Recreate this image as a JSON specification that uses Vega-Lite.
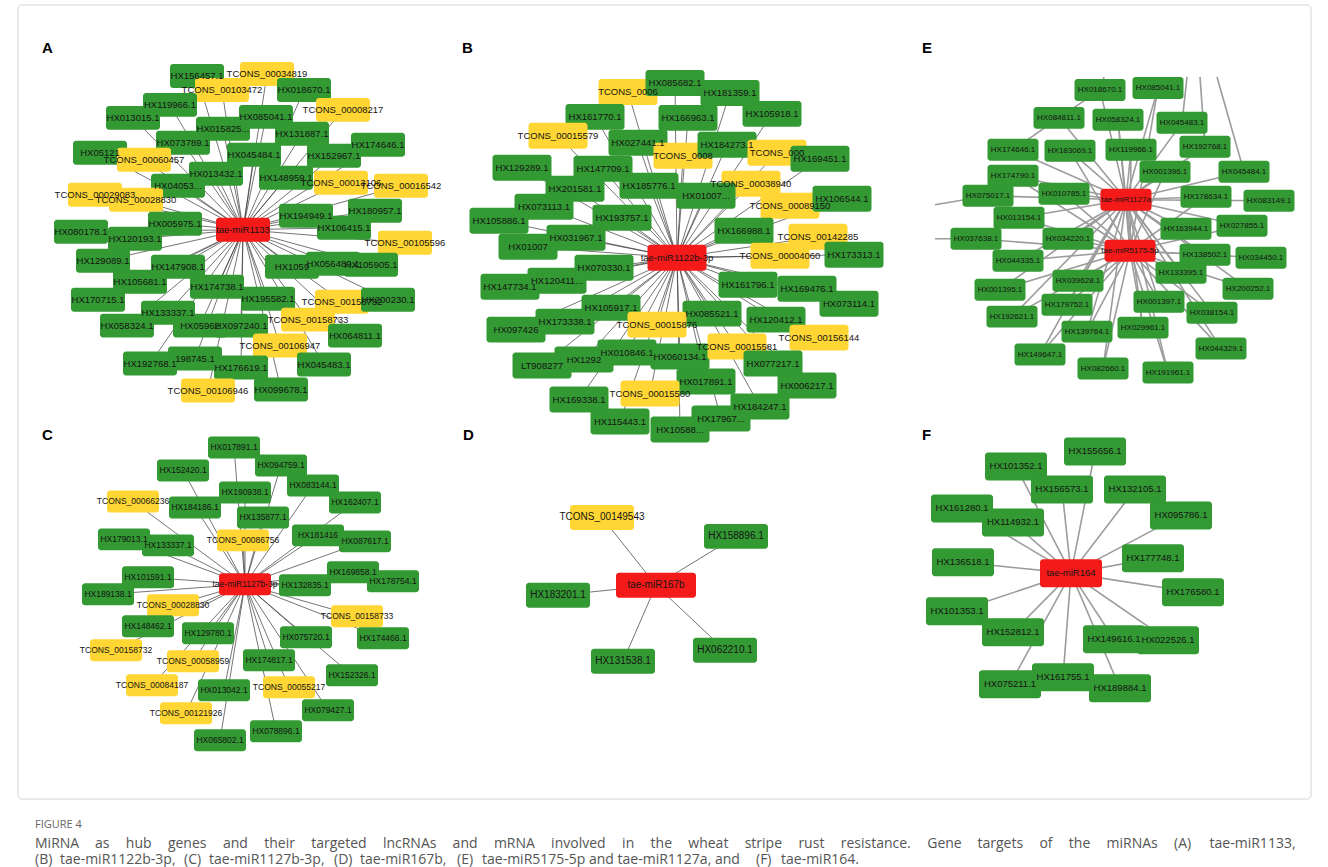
{
  "$schema": "https://vega.github.io/schema/vega-lite/v6.json",
  "width": 1328,
  "height": 867,
  "autosize": {"type": "fit", "contains": "padding"},
  "padding": 0,
  "background": "white",
  "config": {"view": {"stroke": null}},
  "datasets": {
    "frame": [{"x": 18, "y": 5, "x2": 1311, "y2": 800}],
    "nodes": [
      {"p": "A", "n": "HX156457.1", "t": "mRNA", "x": 197, "y": 76},
      {"p": "A", "n": "TCONS_00034819", "t": "lncRNA", "x": 267, "y": 74},
      {"p": "A", "n": "TCONS_00103472", "t": "lncRNA", "x": 222, "y": 90},
      {"p": "A", "n": "HX018670.1", "t": "mRNA", "x": 304, "y": 90},
      {"p": "A", "n": "TCONS_00008217", "t": "lncRNA", "x": 343, "y": 110},
      {"p": "A", "n": "HX119966.1", "t": "mRNA", "x": 170, "y": 105},
      {"p": "A", "n": "HX013015.1", "t": "mRNA", "x": 133, "y": 118},
      {"p": "A", "n": "HX085041.1", "t": "mRNA", "x": 266, "y": 117},
      {"p": "A", "n": "HX015825...", "t": "mRNA", "x": 223, "y": 129},
      {"p": "A", "n": "HX131887.1", "t": "mRNA", "x": 302, "y": 134},
      {"p": "A", "n": "HX174646.1", "t": "mRNA", "x": 378, "y": 145},
      {"p": "A", "n": "HX073789.1", "t": "mRNA", "x": 183, "y": 143},
      {"p": "A", "n": "HX05121", "t": "mRNA", "x": 100, "y": 153},
      {"p": "A", "n": "TCONS_00060457", "t": "lncRNA", "x": 144, "y": 160},
      {"p": "A", "n": "HX045484.1", "t": "mRNA", "x": 254, "y": 155},
      {"p": "A", "n": "HX152967.1", "t": "mRNA", "x": 334, "y": 156},
      {"p": "A", "n": "HX013432.1", "t": "mRNA", "x": 216, "y": 174},
      {"p": "A", "n": "HX148959.1", "t": "mRNA", "x": 286, "y": 178},
      {"p": "A", "n": "TCONS_00013106", "t": "lncRNA", "x": 341, "y": 183},
      {"p": "A", "n": "TCONS_00016542", "t": "lncRNA", "x": 401, "y": 186},
      {"p": "A", "n": "HX04053...", "t": "mRNA", "x": 178, "y": 186},
      {"p": "A", "n": "TCONS_00029083", "t": "lncRNA", "x": 95, "y": 195},
      {"p": "A", "n": "TCONS_00028830", "t": "lncRNA", "x": 136, "y": 200},
      {"p": "A", "n": "HX005975.1", "t": "mRNA", "x": 175, "y": 224},
      {"p": "A", "n": "HX194949.1", "t": "mRNA", "x": 306, "y": 216},
      {"p": "A", "n": "HX180957.1", "t": "mRNA", "x": 375, "y": 211},
      {"p": "A", "n": "HX106415.1", "t": "mRNA", "x": 344, "y": 228},
      {"p": "A", "n": "TCONS_00105596", "t": "lncRNA", "x": 405, "y": 243},
      {"p": "A", "n": "HX080178.1", "t": "mRNA", "x": 81, "y": 232},
      {"p": "A", "n": "HX120193.1", "t": "mRNA", "x": 135, "y": 239},
      {"p": "A", "n": "HX129089.1", "t": "mRNA", "x": 103, "y": 261},
      {"p": "A", "n": "HX147908.1", "t": "mRNA", "x": 178, "y": 267},
      {"p": "A", "n": "HX105681.1", "t": "mRNA", "x": 140, "y": 282},
      {"p": "A", "n": "HX174738.1", "t": "mRNA", "x": 217, "y": 287},
      {"p": "A", "n": "HX170715.1", "t": "mRNA", "x": 98, "y": 300},
      {"p": "A", "n": "HX1059", "t": "mRNA", "x": 292, "y": 267},
      {"p": "A", "n": "HX056480.1", "t": "mRNA", "x": 333, "y": 264},
      {"p": "A", "n": "HX105905.1", "t": "mRNA", "x": 371, "y": 265},
      {"p": "A", "n": "HX195582.1", "t": "mRNA", "x": 268, "y": 299},
      {"p": "A", "n": "TCONS_00158732", "t": "lncRNA", "x": 342, "y": 302},
      {"p": "A", "n": "HX200230.1", "t": "mRNA", "x": 388, "y": 300},
      {"p": "A", "n": "TCONS_00158733", "t": "lncRNA", "x": 308, "y": 320},
      {"p": "A", "n": "HX133337.1", "t": "mRNA", "x": 168, "y": 313},
      {"p": "A", "n": "HX058324.1", "t": "mRNA", "x": 127, "y": 326},
      {"p": "A", "n": "HX05962", "t": "mRNA", "x": 200, "y": 326},
      {"p": "A", "n": "HX097240.1", "t": "mRNA", "x": 241, "y": 326},
      {"p": "A", "n": "HX064811.1", "t": "mRNA", "x": 355, "y": 336},
      {"p": "A", "n": "TCONS_00106947", "t": "lncRNA", "x": 280, "y": 346},
      {"p": "A", "n": "HX192768.1", "t": "mRNA", "x": 150, "y": 364},
      {"p": "A", "n": "198745.1", "t": "mRNA", "x": 195, "y": 359},
      {"p": "A", "n": "HX176619.1", "t": "mRNA", "x": 241, "y": 368},
      {"p": "A", "n": "HX045483.1", "t": "mRNA", "x": 324, "y": 365},
      {"p": "A", "n": "TCONS_00106946", "t": "lncRNA", "x": 208, "y": 391},
      {"p": "A", "n": "HX099678.1", "t": "mRNA", "x": 281, "y": 390},

      {"p": "B", "n": "TCONS_0006", "t": "lncRNA", "x": 628, "y": 92},
      {"p": "B", "n": "HX085682.1", "t": "mRNA", "x": 675, "y": 83},
      {"p": "B", "n": "HX181359.1", "t": "mRNA", "x": 730, "y": 93},
      {"p": "B", "n": "HX161770.1", "t": "mRNA", "x": 595, "y": 117},
      {"p": "B", "n": "HX166963.1", "t": "mRNA", "x": 688, "y": 118},
      {"p": "B", "n": "HX105918.1", "t": "mRNA", "x": 772, "y": 114},
      {"p": "B", "n": "TCONS_00015579", "t": "lncRNA", "x": 558, "y": 136},
      {"p": "B", "n": "HX027441.1", "t": "mRNA", "x": 638, "y": 143},
      {"p": "B", "n": "TCONS_0008", "t": "lncRNA", "x": 683, "y": 156},
      {"p": "B", "n": "HX184273.1", "t": "mRNA", "x": 727, "y": 145},
      {"p": "B", "n": "TCONS_000", "t": "lncRNA", "x": 777, "y": 153},
      {"p": "B", "n": "HX169451.1", "t": "mRNA", "x": 820, "y": 159},
      {"p": "B", "n": "HX129289.1", "t": "mRNA", "x": 522, "y": 168},
      {"p": "B", "n": "HX147709.1", "t": "mRNA", "x": 603, "y": 169},
      {"p": "B", "n": "HX185776.1", "t": "mRNA", "x": 649, "y": 186},
      {"p": "B", "n": "TCONS_00038940", "t": "lncRNA", "x": 751, "y": 184},
      {"p": "B", "n": "HX201581.1", "t": "mRNA", "x": 575, "y": 189},
      {"p": "B", "n": "HX01007...", "t": "mRNA", "x": 706, "y": 196},
      {"p": "B", "n": "TCONS_00089150", "t": "lncRNA", "x": 790, "y": 206},
      {"p": "B", "n": "HX106544.1", "t": "mRNA", "x": 842, "y": 199},
      {"p": "B", "n": "HX073113.1", "t": "mRNA", "x": 544, "y": 207},
      {"p": "B", "n": "HX193757.1", "t": "mRNA", "x": 622, "y": 218},
      {"p": "B", "n": "HX105886.1", "t": "mRNA", "x": 499, "y": 221},
      {"p": "B", "n": "HX166988.1", "t": "mRNA", "x": 744, "y": 231},
      {"p": "B", "n": "TCONS_00142285", "t": "lncRNA", "x": 818, "y": 237},
      {"p": "B", "n": "HX031967.1", "t": "mRNA", "x": 576, "y": 238},
      {"p": "B", "n": "HX01007", "t": "mRNA", "x": 528, "y": 247},
      {"p": "B", "n": "HX173313.1", "t": "mRNA", "x": 854, "y": 255},
      {"p": "B", "n": "TCONS_00004060", "t": "lncRNA", "x": 780, "y": 256},
      {"p": "B", "n": "HX070330.1", "t": "mRNA", "x": 604, "y": 268},
      {"p": "B", "n": "HX120411...", "t": "mRNA", "x": 557, "y": 281},
      {"p": "B", "n": "HX147734.1", "t": "mRNA", "x": 510, "y": 287},
      {"p": "B", "n": "HX161796.1", "t": "mRNA", "x": 748, "y": 285},
      {"p": "B", "n": "HX169476.1", "t": "mRNA", "x": 807, "y": 289},
      {"p": "B", "n": "HX073114.1", "t": "mRNA", "x": 849, "y": 304},
      {"p": "B", "n": "HX105917.1", "t": "mRNA", "x": 611, "y": 308},
      {"p": "B", "n": "HX173338.1", "t": "mRNA", "x": 565, "y": 322},
      {"p": "B", "n": "HX097426", "t": "mRNA", "x": 516, "y": 330},
      {"p": "B", "n": "HX085521.1", "t": "mRNA", "x": 712, "y": 314},
      {"p": "B", "n": "HX120412.1", "t": "mRNA", "x": 776, "y": 320},
      {"p": "B", "n": "TCONS_00015876", "t": "lncRNA", "x": 657, "y": 325},
      {"p": "B", "n": "TCONS_00156144", "t": "lncRNA", "x": 819, "y": 338},
      {"p": "B", "n": "HX010846.1", "t": "mRNA", "x": 627, "y": 353},
      {"p": "B", "n": "HX1292", "t": "mRNA", "x": 584, "y": 360},
      {"p": "B", "n": "LT908277", "t": "mRNA", "x": 542, "y": 366},
      {"p": "B", "n": "HX060134.1", "t": "mRNA", "x": 680, "y": 357},
      {"p": "B", "n": "TCONS_00015581", "t": "lncRNA", "x": 737, "y": 347},
      {"p": "B", "n": "HX077217.1", "t": "mRNA", "x": 773, "y": 364},
      {"p": "B", "n": "HX017891.1", "t": "mRNA", "x": 706, "y": 382},
      {"p": "B", "n": "HX006217.1", "t": "mRNA", "x": 807, "y": 386},
      {"p": "B", "n": "TCONS_00015580", "t": "lncRNA", "x": 650, "y": 394},
      {"p": "B", "n": "HX169338.1", "t": "mRNA", "x": 579, "y": 400},
      {"p": "B", "n": "HX184247.1", "t": "mRNA", "x": 760, "y": 407},
      {"p": "B", "n": "HX17967...", "t": "mRNA", "x": 721, "y": 419},
      {"p": "B", "n": "HX115443.1", "t": "mRNA", "x": 620, "y": 422},
      {"p": "B", "n": "HX10588...", "t": "mRNA", "x": 680, "y": 430},

      {"p": "C", "n": "HX017891.1", "t": "mRNA", "x": 234, "y": 448},
      {"p": "C", "n": "HX094759.1", "t": "mRNA", "x": 281, "y": 466},
      {"p": "C", "n": "HX152420.1", "t": "mRNA", "x": 183, "y": 471},
      {"p": "C", "n": "HX083144.1", "t": "mRNA", "x": 313, "y": 486},
      {"p": "C", "n": "TCONS_00066236", "t": "lncRNA", "x": 133, "y": 502},
      {"p": "C", "n": "HX190938.1", "t": "mRNA", "x": 245, "y": 493},
      {"p": "C", "n": "HX184186.1", "t": "mRNA", "x": 195, "y": 508},
      {"p": "C", "n": "HX162407.1", "t": "mRNA", "x": 355, "y": 503},
      {"p": "C", "n": "HX135877.1", "t": "mRNA", "x": 263, "y": 518},
      {"p": "C", "n": "TCONS_00086756", "t": "lncRNA", "x": 243, "y": 541},
      {"p": "C", "n": "HX179013.1", "t": "mRNA", "x": 124, "y": 540},
      {"p": "C", "n": "HX133337.1", "t": "mRNA", "x": 168, "y": 546},
      {"p": "C", "n": "HX181416", "t": "mRNA", "x": 318, "y": 536},
      {"p": "C", "n": "HX087617.1", "t": "mRNA", "x": 365, "y": 542},
      {"p": "C", "n": "HX101591.1", "t": "mRNA", "x": 148, "y": 578},
      {"p": "C", "n": "HX132835.1", "t": "mRNA", "x": 305, "y": 586},
      {"p": "C", "n": "HX169858.1", "t": "mRNA", "x": 353, "y": 573},
      {"p": "C", "n": "HX178754.1", "t": "mRNA", "x": 393, "y": 582},
      {"p": "C", "n": "HX189138.1", "t": "mRNA", "x": 108, "y": 595},
      {"p": "C", "n": "TCONS_00028830", "t": "lncRNA", "x": 173, "y": 606},
      {"p": "C", "n": "TCONS_00158733", "t": "lncRNA", "x": 357, "y": 617},
      {"p": "C", "n": "HX148462.1", "t": "mRNA", "x": 148, "y": 627},
      {"p": "C", "n": "HX129780.1", "t": "mRNA", "x": 208, "y": 634},
      {"p": "C", "n": "HX075720.1", "t": "mRNA", "x": 306, "y": 638},
      {"p": "C", "n": "HX174466.1", "t": "mRNA", "x": 383, "y": 639},
      {"p": "C", "n": "TCONS_00158732", "t": "lncRNA", "x": 116, "y": 651},
      {"p": "C", "n": "TCONS_00058959", "t": "lncRNA", "x": 193, "y": 662},
      {"p": "C", "n": "HX174817.1", "t": "mRNA", "x": 269, "y": 661},
      {"p": "C", "n": "HX152326.1", "t": "mRNA", "x": 352, "y": 676},
      {"p": "C", "n": "TCONS_00084187", "t": "lncRNA", "x": 152, "y": 686},
      {"p": "C", "n": "HX013042.1", "t": "mRNA", "x": 224, "y": 691},
      {"p": "C", "n": "TCONS_00055217", "t": "lncRNA", "x": 289, "y": 688},
      {"p": "C", "n": "HX079427.1", "t": "mRNA", "x": 328, "y": 711},
      {"p": "C", "n": "TCONS_00121926", "t": "lncRNA", "x": 186, "y": 714},
      {"p": "C", "n": "HX078896.1", "t": "mRNA", "x": 276, "y": 732},
      {"p": "C", "n": "HX065802.1", "t": "mRNA", "x": 220, "y": 741},

      {"p": "D", "n": "TCONS_00149543", "t": "lncRNA", "x": 602, "y": 518},
      {"p": "D", "n": "HX158896.1", "t": "mRNA", "x": 736, "y": 537},
      {"p": "D", "n": "HX183201.1", "t": "mRNA", "x": 558, "y": 596},
      {"p": "D", "n": "HX131538.1", "t": "mRNA", "x": 623, "y": 662},
      {"p": "D", "n": "HX062210.1", "t": "mRNA", "x": 725, "y": 651},

      {"p": "E", "n": "", "t": "cut", "x": 1187, "y": 77, "ref": "Et1"},
      {"p": "E", "n": "", "t": "cut", "x": 1200, "y": 77, "ref": "Et2"},
      {"p": "E", "n": "", "t": "cut", "x": 1217, "y": 77, "ref": "Et3"},
      {"p": "E", "n": "", "t": "cut", "x": 1104, "y": 77, "ref": "Et4"},
      {"p": "E", "n": "", "t": "cut", "x": 935, "y": 205, "ref": "El1"},
      {"p": "E", "n": "", "t": "cut", "x": 935, "y": 239, "ref": "El2"},
      {"p": "E", "n": "HX018670.1", "t": "mRNA", "x": 1100, "y": 90, "to": ["E1", "E84811", "Et4"]},
      {"p": "E", "n": "HX084811.1", "t": "mRNA", "x": 1059, "y": 118, "to": ["E1", "E174646"], "ref": "E84811"},
      {"p": "E", "n": "HX058324.1", "t": "mRNA", "x": 1118, "y": 120, "to": ["E1", "E2"]},
      {"p": "E", "n": "HX085041.1", "t": "mRNA", "x": 1158, "y": 88, "to": ["E1", "E2"]},
      {"p": "E", "n": "HX045483.1", "t": "mRNA", "x": 1182, "y": 123, "to": ["E1", "Et1"]},
      {"p": "E", "n": "HX174646.1", "t": "mRNA", "x": 1013, "y": 150, "to": ["E1"], "ref": "E174646"},
      {"p": "E", "n": "HX183069.1", "t": "mRNA", "x": 1070, "y": 151, "to": ["E1", "E2"]},
      {"p": "E", "n": "HX119966.1", "t": "mRNA", "x": 1131, "y": 150, "to": ["E1", "E2"]},
      {"p": "E", "n": "HX192768.1", "t": "mRNA", "x": 1205, "y": 147, "to": ["E1", "Et2"]},
      {"p": "E", "n": "HX174790.1", "t": "mRNA", "x": 1013, "y": 176, "to": ["E1", "E2"]},
      {"p": "E", "n": "HX001396.1", "t": "mRNA", "x": 1165, "y": 172, "to": ["E1", "E2"]},
      {"p": "E", "n": "HX045484.1", "t": "mRNA", "x": 1244, "y": 172, "to": ["E1", "Et3"]},
      {"p": "E", "n": "HX075017.1", "t": "mRNA", "x": 988, "y": 196, "to": ["E1", "El1"]},
      {"p": "E", "n": "HX010785.1", "t": "mRNA", "x": 1064, "y": 194, "to": ["E1", "E2"]},
      {"p": "E", "n": "HX178634.1", "t": "mRNA", "x": 1206, "y": 197, "to": ["E1", "E2"]},
      {"p": "E", "n": "HX083149.1", "t": "mRNA", "x": 1269, "y": 201, "to": ["E1"]},
      {"p": "E", "n": "HX013154.1", "t": "mRNA", "x": 1019, "y": 218, "to": ["E1", "E2"]},
      {"p": "E", "n": "HX163944.1", "t": "mRNA", "x": 1186, "y": 229, "to": ["E1", "E2"]},
      {"p": "E", "n": "HX027855.1", "t": "mRNA", "x": 1242, "y": 226, "to": ["E1", "E2"]},
      {"p": "E", "n": "HX037638.1", "t": "mRNA", "x": 976, "y": 239, "to": ["E2", "El2"]},
      {"p": "E", "n": "HX034220.1", "t": "mRNA", "x": 1068, "y": 239, "to": ["E1", "E2"]},
      {"p": "E", "n": "HX138502.1", "t": "mRNA", "x": 1205, "y": 255, "to": ["E1", "E2"]},
      {"p": "E", "n": "HX034450.1", "t": "mRNA", "x": 1261, "y": 258, "to": ["E2"]},
      {"p": "E", "n": "HX044335.1", "t": "mRNA", "x": 1018, "y": 261, "to": ["E1", "E2"]},
      {"p": "E", "n": "HX133395.1", "t": "mRNA", "x": 1181, "y": 273, "to": ["E1", "E2"]},
      {"p": "E", "n": "HX039628.1", "t": "mRNA", "x": 1078, "y": 281, "to": ["E1", "E2"]},
      {"p": "E", "n": "HX001395.1", "t": "mRNA", "x": 1000, "y": 290, "to": ["E1", "E2"]},
      {"p": "E", "n": "HX200252.1", "t": "mRNA", "x": 1248, "y": 289, "to": ["E1", "E2"]},
      {"p": "E", "n": "HX179752.1", "t": "mRNA", "x": 1067, "y": 305, "to": ["E1", "E2"]},
      {"p": "E", "n": "HX001397.1", "t": "mRNA", "x": 1159, "y": 302, "to": ["E1", "E2"]},
      {"p": "E", "n": "HX192621.1", "t": "mRNA", "x": 1012, "y": 317, "to": ["E1", "E2"]},
      {"p": "E", "n": "HX038154.1", "t": "mRNA", "x": 1212, "y": 313, "to": ["E1", "E2"]},
      {"p": "E", "n": "HX029961.1", "t": "mRNA", "x": 1143, "y": 328, "to": ["E1", "E2"]},
      {"p": "E", "n": "HX139764.1", "t": "mRNA", "x": 1087, "y": 332, "to": ["E1", "E2"]},
      {"p": "E", "n": "HX149647.1", "t": "mRNA", "x": 1040, "y": 355, "to": ["E1", "E2"]},
      {"p": "E", "n": "HX044329.1", "t": "mRNA", "x": 1221, "y": 349, "to": ["E1", "E2"]},
      {"p": "E", "n": "HX082660.1", "t": "mRNA", "x": 1103, "y": 369, "to": ["E1", "E2"]},
      {"p": "E", "n": "HX191961.1", "t": "mRNA", "x": 1168, "y": 373, "to": ["E1", "E2"]},

      {"p": "F", "n": "HX155656.1", "t": "mRNA", "x": 1095, "y": 452},
      {"p": "F", "n": "HX101352.1", "t": "mRNA", "x": 1016, "y": 467},
      {"p": "F", "n": "HX156573.1", "t": "mRNA", "x": 1062, "y": 490},
      {"p": "F", "n": "HX132105.1", "t": "mRNA", "x": 1135, "y": 490},
      {"p": "F", "n": "HX161280.1", "t": "mRNA", "x": 962, "y": 509},
      {"p": "F", "n": "HX114932.1", "t": "mRNA", "x": 1013, "y": 523},
      {"p": "F", "n": "HX095786.1", "t": "mRNA", "x": 1181, "y": 516},
      {"p": "F", "n": "HX136518.1", "t": "mRNA", "x": 963, "y": 563},
      {"p": "F", "n": "HX177748.1", "t": "mRNA", "x": 1153, "y": 559},
      {"p": "F", "n": "HX176580.1", "t": "mRNA", "x": 1193, "y": 593},
      {"p": "F", "n": "HX101353.1", "t": "mRNA", "x": 957, "y": 612},
      {"p": "F", "n": "HX152812.1", "t": "mRNA", "x": 1013, "y": 633},
      {"p": "F", "n": "HX149616.1", "t": "mRNA", "x": 1114, "y": 640},
      {"p": "F", "n": "HX022526.1", "t": "mRNA", "x": 1168, "y": 641},
      {"p": "F", "n": "HX075211.1", "t": "mRNA", "x": 1010, "y": 685},
      {"p": "F", "n": "HX161755.1", "t": "mRNA", "x": 1063, "y": 678},
      {"p": "F", "n": "HX189884.1", "t": "mRNA", "x": 1120, "y": 689},

      {"p": "A", "n": "tae-miR1133", "t": "miRNA", "x": 243, "y": 230, "ref": "A"},
      {"p": "B", "n": "tae-miR1122b-3p", "t": "miRNA", "x": 677, "y": 258, "ref": "B"},
      {"p": "C", "n": "tae-miR1127b-3p", "t": "miRNA", "x": 245, "y": 585, "ref": "C"},
      {"p": "D", "n": "tae-miR167b", "t": "miRNA", "x": 656, "y": 586, "ref": "D"},
      {"p": "E", "n": "tae-miR1127a", "t": "miRNA", "x": 1126, "y": 200, "ref": "E1"},
      {"p": "E", "n": "tae-miR5175-5p", "t": "miRNA", "x": 1130, "y": 251, "ref": "E2", "to": ["E1"]},
      {"p": "F", "n": "tae-miR164", "t": "miRNA", "x": 1071, "y": 574, "ref": "F"}
    ],
    "letters": [
      {"s": "A", "x": 42, "y": 48},
      {"s": "B", "x": 462, "y": 48},
      {"s": "E", "x": 922, "y": 48},
      {"s": "C", "x": 42, "y": 436},
      {"s": "D", "x": 463, "y": 436},
      {"s": "F", "x": 922, "y": 436}
    ],
    "caption": [
      {"s": "FIGURE 4", "x": 35, "y": 826, "k": "head"},
      {"s": "MiRNA", "x": 35, "y": 845, "k": "text"},
      {"s": "as", "x": 95, "y": 845, "k": "text"},
      {"s": "hub", "x": 125.8, "y": 845, "k": "text"},
      {"s": "genes", "x": 167.9, "y": 845, "k": "text"},
      {"s": "and", "x": 222.9, "y": 845, "k": "text"},
      {"s": "their", "x": 264.2, "y": 845, "k": "text"},
      {"s": "targeted", "x": 311.2, "y": 845, "k": "text"},
      {"s": "lncRNAs", "x": 382.9, "y": 845, "k": "text"},
      {"s": "and", "x": 452.6, "y": 845, "k": "text"},
      {"s": "mRNA", "x": 493.9, "y": 845, "k": "text"},
      {"s": "involved", "x": 551.1, "y": 845, "k": "text"},
      {"s": "in", "x": 622.1, "y": 845, "k": "text"},
      {"s": "the", "x": 650.6, "y": 845, "k": "text"},
      {"s": "wheat", "x": 688.3, "y": 845, "k": "text"},
      {"s": "stripe", "x": 744.7, "y": 845, "k": "text"},
      {"s": "rust", "x": 798.4, "y": 845, "k": "text"},
      {"s": "resistance.", "x": 840.7, "y": 845, "k": "text"},
      {"s": "Gene", "x": 927.2, "y": 845, "k": "text"},
      {"s": "targets", "x": 977.5, "y": 845, "k": "text"},
      {"s": "of", "x": 1039.4, "y": 845, "k": "text"},
      {"s": "the", "x": 1068.8, "y": 845, "k": "text"},
      {"s": "miRNAs", "x": 1106.5, "y": 845, "k": "text"},
      {"s": "(A)", "x": 1174, "y": 845, "k": "bold"},
      {"s": "tae-miR1133,", "x": 1209.6, "y": 845, "k": "text"},
      {"s": "(B)", "x": 35, "y": 861, "k": "bold"},
      {"s": "tae-miR1122b-3p,", "x": 60, "y": 861, "k": "text"},
      {"s": "(C)", "x": 184, "y": 861, "k": "bold"},
      {"s": "tae-miR1127b-3p,", "x": 209, "y": 861, "k": "text"},
      {"s": "(D)", "x": 334, "y": 861, "k": "bold"},
      {"s": "tae-miR167b,", "x": 360, "y": 861, "k": "text"},
      {"s": "(E)", "x": 457, "y": 861, "k": "bold"},
      {"s": "tae-miR5175-5p and tae-miR1127a, and", "x": 482, "y": 861, "k": "text"},
      {"s": "(F)", "x": 756, "y": 861, "k": "bold"},
      {"s": "tae-miR164.", "x": 781, "y": 861, "k": "text"}
    ]
  },
  "layer": [
    {
      "data": {"name": "frame"},
      "mark": {"type": "rect", "fill": null, "stroke": "#d4d4d4", "strokeWidth": 1, "cornerRadius": 4},
      "encoding": {
        "x": {"field": "x", "type": "quantitative", "scale": {"domain": [0, 1328], "nice": false, "zero": false}, "axis": null},
        "x2": {"field": "x2"},
        "y": {"field": "y", "type": "quantitative", "scale": {"domain": [0, 867], "nice": false, "zero": false, "reverse": true}, "axis": null},
        "y2": {"field": "y2"}
      }
    },
    {
      "data": {"name": "nodes"},
      "transform": [
        {"filter": "datum.t !== 'cut' && (datum.t !== 'miRNA' || datum.to)"},
        {"calculate": "datum.to ? datum.to : [datum.p]", "as": "links"},
        {"flatten": ["links"]},
        {"lookup": "links", "from": {"data": {"name": "nodes"}, "key": "ref", "fields": ["x", "y"]}, "as": ["hx", "hy"]},
        {"calculate": "datum.p === 'E' || datum.p === 'F'", "as": "grey"}
      ],
      "mark": {"type": "rule"},
      "encoding": {
        "x": {"field": "x", "type": "quantitative", "scale": {"domain": [0, 1328], "nice": false, "zero": false}, "axis": null},
        "y": {"field": "y", "type": "quantitative", "scale": {"domain": [0, 867], "nice": false, "zero": false, "reverse": true}, "axis": null},
        "x2": {"field": "hx"},
        "y2": {"field": "hy"},
        "color": {"condition": {"test": "datum.grey", "value": "#9c9c9c"}, "value": "#3a3a3a"},
        "strokeWidth": {"condition": {"test": "datum.grey", "value": 1.6}, "value": 0.7}
      }
    },
    {
      "data": {"name": "nodes"},
      "transform": [
        {"filter": "datum.t !== 'cut'"},
        {"calculate": "datum.t === 'miRNA' && datum.p === 'D' ? 40 : datum.p === 'A' ? 27 : datum.p === 'B' ? 29.5 : datum.p === 'C' ? 26 : datum.p === 'D' ? 32 : datum.p === 'E' ? 25.5 : 31", "as": "hw"},
        {"calculate": "datum.p === 'A' ? 12 : datum.p === 'B' ? 13 : datum.p === 'C' ? 11 : datum.p === 'D' ? 12.5 : datum.p === 'E' ? 11 : 14", "as": "hh"},
        {"calculate": "datum.x - datum.hw", "as": "left"},
        {"calculate": "datum.x + datum.hw", "as": "right"},
        {"calculate": "datum.y - datum.hh", "as": "top"},
        {"calculate": "datum.y + datum.hh", "as": "bottom"}
      ],
      "mark": {"type": "rect", "cornerRadius": 3},
      "encoding": {
        "x": {"field": "left", "type": "quantitative", "scale": {"domain": [0, 1328], "nice": false, "zero": false}, "axis": null},
        "x2": {"field": "right"},
        "y": {"field": "top", "type": "quantitative", "scale": {"domain": [0, 867], "nice": false, "zero": false, "reverse": true}, "axis": null},
        "y2": {"field": "bottom"},
        "color": {"field": "t", "type": "nominal", "scale": {"domain": ["miRNA", "lncRNA", "mRNA"], "range": ["#f41a1a", "#ffd633", "#339933"]}, "legend": null}
      }
    },
    {
      "data": {"name": "nodes"},
      "transform": [
        {"filter": "datum.t !== 'cut'"},
        {"calculate": "datum.p === 'A' ? 9.5 : datum.p === 'B' ? 9.5 : datum.p === 'C' ? 8.5 : datum.p === 'D' ? 10 : datum.p === 'E' ? 8 : 9.5", "as": "fs"}
      ],
      "mark": {"type": "text", "font": "Liberation Sans", "baseline": "middle", "align": "center", "color": "#141414"},
      "encoding": {
        "x": {"field": "x", "type": "quantitative", "scale": {"domain": [0, 1328], "nice": false, "zero": false}, "axis": null},
        "y": {"field": "y", "type": "quantitative", "scale": {"domain": [0, 867], "nice": false, "zero": false, "reverse": true}, "axis": null},
        "text": {"field": "n"},
        "size": {"field": "fs", "type": "quantitative", "scale": null}
      }
    },
    {
      "data": {"name": "letters"},
      "mark": {"type": "text", "font": "Liberation Sans", "fontWeight": "bold", "fontSize": 15, "baseline": "middle", "align": "left", "color": "#000000"},
      "encoding": {
        "x": {"field": "x", "type": "quantitative", "scale": {"domain": [0, 1328], "nice": false, "zero": false}, "axis": null},
        "y": {"field": "y", "type": "quantitative", "scale": {"domain": [0, 867], "nice": false, "zero": false, "reverse": true}, "axis": null},
        "text": {"field": "s"}
      }
    },
    {
      "data": {"name": "caption"},
      "mark": {"type": "text", "font": "Open Sans", "baseline": "middle", "align": "left"},
      "encoding": {
        "x": {"field": "x", "type": "quantitative", "scale": {"domain": [0, 1328], "nice": false, "zero": false}, "axis": null},
        "y": {"field": "y", "type": "quantitative", "scale": {"domain": [0, 867], "nice": false, "zero": false, "reverse": true}, "axis": null},
        "text": {"field": "s"},
        "size": {"condition": {"test": "datum.k === 'head'", "value": 11}, "value": 14},
        "fontWeight": {"condition": {"test": "datum.k === 'bold'", "value": "bold"}, "value": "normal"},
        "color": {"condition": {"test": "datum.k === 'head'", "value": "#666666"}, "value": "#555555"}
      }
    }
  ]
}
